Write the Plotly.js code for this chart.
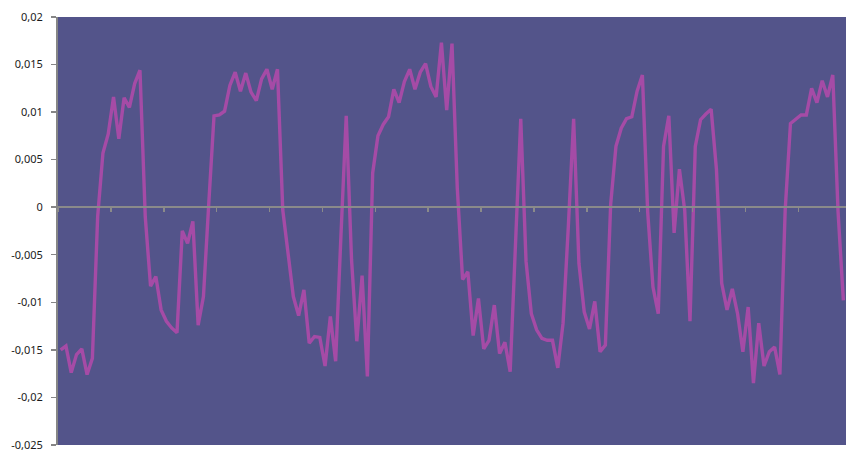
<!DOCTYPE html>
<html>
<head>
<meta charset="utf-8">
<script src="https://cdn.plot.ly/plotly-3.0.1.min.js"></script>
<style>html,body{margin:0;padding:0;background:#fff;}#chart{width:846px;height:450px;}</style>
</head>
<body>
<div id="chart"></div>
<script>
// Series values (one per category, 149 categories)
const values = [
 -0.0150,-0.0146,-0.0174,-0.0155,-0.0149,-0.0176,-0.0159,-0.0010, 0.0057, 0.0077,
  0.0116, 0.0072, 0.0115, 0.0105, 0.0130, 0.0144,-0.0010,-0.0083,-0.0073,-0.0108,
 -0.0120,-0.0127,-0.0132,-0.0025,-0.0038,-0.0015,-0.0124,-0.0094, 0.0003, 0.0096,
  0.0097, 0.0101, 0.0128, 0.0142, 0.0122, 0.0141, 0.0121, 0.0112, 0.0135, 0.0145,
  0.0124, 0.0145,-0.0003,-0.0052,-0.0094,-0.0114,-0.0087,-0.0143,-0.0136,-0.0137,
 -0.0167,-0.0115,-0.0162,-0.0030, 0.0096,-0.0055,-0.0141,-0.0072,-0.0178, 0.0036,
  0.0075, 0.0087, 0.0095, 0.0124, 0.0110, 0.0132, 0.0145, 0.0124, 0.0142, 0.0151,
  0.0127, 0.0116, 0.0173, 0.0102, 0.0172, 0.0020,-0.0076,-0.0068,-0.0135,-0.0096,
 -0.0149,-0.0140,-0.0103,-0.0154,-0.0142,-0.0173,-0.0040, 0.0093,-0.0057,-0.0112,
 -0.0129,-0.0138,-0.0140,-0.0140,-0.0169,-0.0122,-0.0020, 0.0093,-0.0059,-0.0110,
 -0.0128,-0.0099,-0.0152,-0.0145, 0.0003, 0.0064, 0.0083, 0.0093, 0.0095, 0.0122,
  0.0139,-0.0005,-0.0084,-0.0112, 0.0064, 0.0096,-0.0027, 0.0040,-0.0003,-0.0120,
  0.0064, 0.0092, 0.0098, 0.0103, 0.0040,-0.0080,-0.0108,-0.0086,-0.0112,-0.0152,
 -0.0105,-0.0185,-0.0122,-0.0167,-0.0152,-0.0147,-0.0176,-0.0003, 0.0088, 0.0093,
  0.0097, 0.0097, 0.0125, 0.0110, 0.0133, 0.0116, 0.0139,-0.0005,-0.0098
];
// Categories (1..N)
const categories = values.map((v, i) => i + 1);
// Y tick values and labels
const yTickVals = [0.02, 0.015, 0.01, 0.005, 0, -0.005, -0.01, -0.015, -0.02, -0.025];
const yTickText = ["0,02", "0,015", "0,01", "0,005", "0", "-0,005", "-0,01", "-0,015", "-0,02", "-0,025"];

const yMin = -0.02501, yMax = 0.02;
const n = categories.length;

const trace = {
  x: categories,
  y: values,
  type: 'scatter',
  mode: 'lines',
  line: {color: '#a54ba6', width: 3.4},
  hoverinfo: 'skip'
};

const layout = {
  width: 846,
  height: 450,
  margin: {l: 58, r: 0, t: 17, b: 5, pad: 0},
  paper_bgcolor: '#ffffff',
  plot_bgcolor: '#53548a',
  showlegend: false,
  font: {family: '"Noto Sans", "DejaVu Sans", sans-serif', size: 11, color: '#1a1a1a'},
  xaxis: {
    range: [categories[0] - 0.5, categories[n - 1] + 0.5],
    showticklabels: false,
    showgrid: false,
    zeroline: false,
    showline: true,
    linecolor: '#8a8a8a',
    linewidth: 2,
    anchor: 'free',
    position: (0 - yMin) / (yMax - yMin),
    ticks: 'outside',
    tickmode: 'linear',
    tick0: categories[0] - 0.5,
    dtick: 10,
    ticklen: 4,
    tickwidth: 1.5,
    tickcolor: '#8a8a8a',
    fixedrange: true
  },
  yaxis: {
    range: [yMin, yMax],
    tickmode: 'array',
    tickvals: yTickVals,
    ticktext: yTickText,
    showgrid: false,
    zeroline: false,
    showline: true,
    linecolor: '#868686',
    linewidth: 2,
    ticks: 'outside',
    ticklen: 5,
    tickwidth: 1.5,
    tickcolor: '#868686',
    ticklabelstandoff: 6,
    ticklabeloverflow: 'allow',
    fixedrange: true
  }
};

Plotly.newPlot('chart', [trace], layout, {staticPlot: true, displayModeBar: false});
</script>
</body>
</html>
